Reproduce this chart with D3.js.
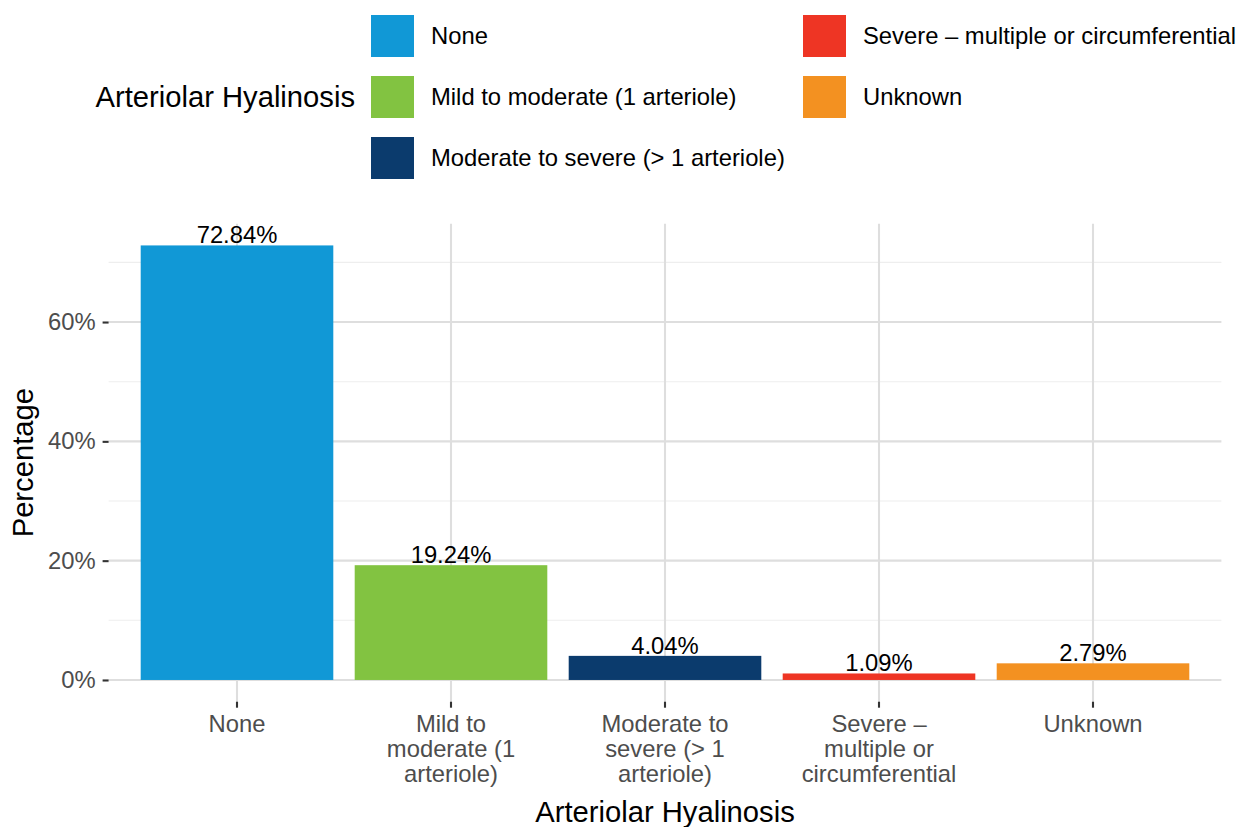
<!DOCTYPE html>
<html><head><meta charset="utf-8">
<script src="https://cdn.jsdelivr.net/npm/d3@7"></script>
<style>
html,body{margin:0;padding:0;background:#fff;}
text{font-family:"Liberation Sans",Arial,Helvetica,sans-serif;}
</style></head>
<body><svg id="c" width="1239" height="827"></svg>
<script>
const categories = ["None","Mild to moderate (1 arteriole)","Moderate to severe (> 1 arteriole)","Severe – multiple or circumferential","Unknown"];
const tickLabels = [["None"],["Mild to","moderate (1","arteriole)"],["Moderate to","severe (> 1","arteriole)"],["Severe –","multiple or","circumferential"],["Unknown"]];
const values = [72.84,19.24,4.04,1.09,2.79];
const colors = ["#1198D6","#82C341","#0B3B6D","#EE3524","#F39121"];
const yTicks = [0,20,40,60];
const yMinor = [10,30,50,70];
const legendTitle = "Arteriolar Hyalinosis";
const xTitle = "Arteriolar Hyalinosis";
const yTitle = "Percentage";

const svg = d3.select("#c");
const L = 108.6, R = 1221.4, T = 223.7, B = 701.7;
const maxV = d3.max(values);
const y = d3.scaleLinear().domain([-maxV*0.05, maxV*1.05]).range([B, T]);
const x = d3.scaleBand().domain(categories).range([L, R]).paddingInner(0.1).paddingOuter(0.15);
// gridlines
const g = svg.append("g");
g.selectAll(".mn").data(yMinor).join("line").attr("x1",L).attr("x2",R)
  .attr("y1",d=>y(d)).attr("y2",d=>y(d)).attr("stroke","#EEEEEE").attr("stroke-width",1.1);
g.selectAll(".mj").data(yTicks).join("line").attr("x1",L).attr("x2",R)
  .attr("y1",d=>y(d)).attr("y2",d=>y(d)).attr("stroke","#DEDEDE").attr("stroke-width",2.1);
g.selectAll(".vx").data(categories).join("line").attr("x1",d=>x(d)+x.bandwidth()/2).attr("x2",d=>x(d)+x.bandwidth()/2)
  .attr("y1",T).attr("y2",B).attr("stroke","#DEDEDE").attr("stroke-width",2.1);
// bars
svg.selectAll(".bar").data(values).join("rect")
  .attr("x",(d,i)=>x(categories[i])).attr("width",x.bandwidth())
  .attr("y",d=>y(d)).attr("height",d=>y(0)-y(d)).attr("fill",(d,i)=>colors[i]);
svg.selectAll(".lab").data(values).join("text")
  .attr("x",(d,i)=>x(categories[i])+x.bandwidth()/2).attr("y",d=>y(d)-2)
  .attr("text-anchor","middle").attr("font-size",23.8).attr("fill","#000")
  .text(d=>d.toFixed(2)+"%");
// y axis
const ya = svg.append("g").attr("transform",`translate(${L},0)`)
  .call(d3.axisLeft(y).tickValues(yTicks).tickSize(6).tickPadding(7).tickFormat(d=>d+"%"));
ya.select(".domain").remove();
ya.selectAll(".tick line").attr("stroke","#333").attr("stroke-width",2.1);
ya.selectAll(".tick text").attr("font-size",23.8).attr("fill","#4D4D4D").attr("font-family","Liberation Sans, Arial, sans-serif");
// x axis
const xa = svg.append("g").attr("transform",`translate(0,${B})`)
  .call(d3.axisBottom(x).tickSize(6).tickFormat(""));
xa.select(".domain").remove();
xa.selectAll(".tick line").attr("stroke","#333").attr("stroke-width",2.1);
xa.selectAll(".tick").each(function(d,i){
  const t = d3.select(this).append("text").attr("text-anchor","middle").attr("fill","#4D4D4D")
    .attr("font-size",23.8).attr("y",30);
  tickLabels[i].forEach((s,k)=>t.append("tspan").attr("x",0).attr("dy",k===0?0:25).text(s));
});
// titles
svg.append("text").attr("x",(L+R)/2).attr("y",822).attr("text-anchor","middle")
  .attr("font-size",29.2).attr("fill","#000").text(xTitle);
svg.append("text").attr("transform",`translate(33,${(T+B)/2}) rotate(-90)`).attr("text-anchor","middle")
  .attr("font-size",29.2).attr("fill","#000").text(yTitle);
// legend
const lg = svg.append("g");
lg.append("text").attr("x",355).attr("y",107).attr("text-anchor","end").attr("font-size",29.2).attr("fill","#000").text(legendTitle);
const colX = [371,803], rowY = [15,76,137];
categories.forEach((c,i)=>{
  const col = Math.floor(i/3), row = i%3;
  lg.append("rect").attr("x",colX[col]).attr("y",rowY[row]).attr("width",43).attr("height",42).attr("fill",colors[i]);
  lg.append("text").attr("x",colX[col]+60).attr("y",rowY[row]+29).attr("font-size",23.8).attr("fill","#000").text(c);
});
</script></body></html>
